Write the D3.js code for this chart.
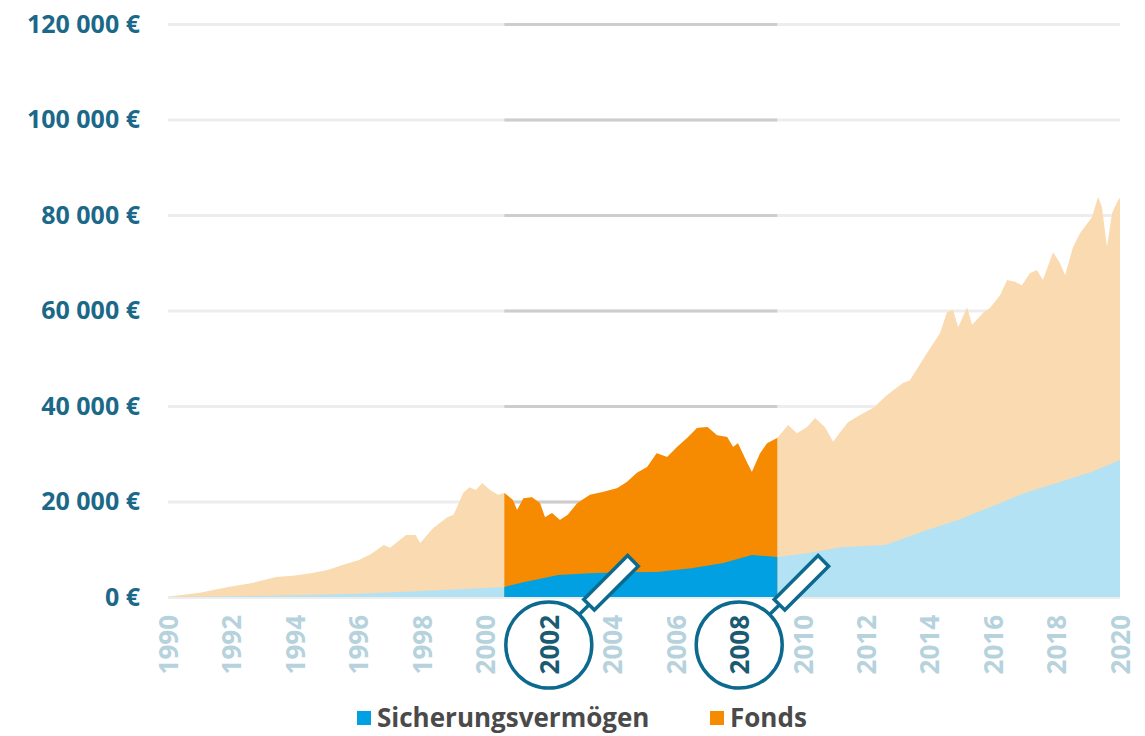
<!DOCTYPE html>
<html>
<head>
<meta charset="utf-8">
<script src="https://cdn.jsdelivr.net/npm/d3@7"></script>
<style>
  body { margin: 0; background: #fff; }
  text { font-family: "Open Sans", "DejaVu Sans", sans-serif; font-weight: 700; }
</style>
</head>
<body>
<script>
// portfolio value over time
var totalYears = [1990.0, 1990.3, 1991.0, 1991.9, 1992.7, 1993.4, 1994.0, 1994.5, 1995.0, 1995.5,
  1996.0, 1996.4, 1996.8, 1997.0, 1997.5, 1997.8, 1997.95, 1998.35, 1998.8, 1999.0,
  1999.3, 1999.5, 1999.7, 1999.9, 2000.15, 2000.4, 2000.6, 2000.87, 2001.0, 2001.2,
  2001.47, 2001.72, 2001.88, 2002.1, 2002.35, 2002.6, 2002.9, 2003.3, 2003.7, 2004.15,
  2004.46, 2004.78, 2005.1, 2005.4, 2005.73, 2006.04, 2006.36, 2006.67, 2007.0, 2007.3,
  2007.62, 2007.81, 2007.96, 2008.25, 2008.4, 2008.66, 2008.88, 2009.2, 2009.54, 2009.82,
  2010.14, 2010.39, 2010.7, 2010.96, 2011.18, 2011.43, 2011.81, 2012.22, 2012.66, 2013.16,
  2013.38, 2013.92, 2014.33, 2014.55, 2014.74, 2014.9, 2015.18, 2015.34, 2015.68, 2015.9,
  2016.22, 2016.44, 2016.69, 2016.91, 2017.16, 2017.38, 2017.57, 2017.89, 2018.11, 2018.27,
  2018.52, 2018.74, 2019.12, 2019.31, 2019.43, 2019.59, 2019.75, 2019.94, 2020.0];
var totalValues = [0, 300, 900, 2100, 3000, 4200, 4500, 5000, 5600, 6700,
  7700, 9000, 10900, 10300, 13000, 13000, 11300, 14400, 16700, 17200,
  21800, 23000, 22400, 23900, 22400, 21400, 21800, 20300, 18200, 20700,
  20900, 19700, 16700, 17600, 16100, 17200, 19700, 21400, 22000, 22800,
  24100, 26000, 27200, 30100, 29300, 31400, 33300, 35400, 35600, 33900,
  33500, 31400, 32200, 28100, 26200, 30100, 32200, 33300, 36000, 34300,
  35600, 37500, 35600, 32500, 34500, 36600, 38100, 39600, 42300, 44800,
  45400, 51100, 55300, 59700, 60100, 56500, 60700, 57000, 59500, 60500,
  63200, 66400, 66000, 65300, 67800, 68500, 66400, 72200, 69900, 67400,
  73300, 76200, 79600, 83800, 81700, 73300, 80400, 83100, 83600];

// Sicherungsvermögen part
var sicherYears = [1990, 1992, 1994, 1996, 1998, 2000, 2000.6, 2001.2, 2002.3, 2003.3,
  2004.3, 2005.4, 2006.5, 2007.5, 2008.4, 2009.2, 2010.2, 2011.2, 2012.6, 2013.9,
  2014.9, 2017.0, 2019.1, 2020.0];
var sicherValues = [0, 150, 350, 700, 1250, 1900, 2100, 3100, 4600, 5000,
  5200, 5250, 6000, 7100, 8800, 8400, 9200, 10400, 10900, 14000,
  16100, 21800, 26200, 28700];

var yTicks = [0, 20000, 40000, 60000, 80000, 100000, 120000];
var xTicks = [1990, 1992, 1994, 1996, 1998, 2000, 2002, 2004, 2006, 2008, 2010, 2012, 2014, 2016, 2018, 2020];
var markedYears = [2002, 2008];
var bandStart = 2000.6, bandEnd = 2009.2;
var legendNames = ["Sicherungsvermögen", "Fonds"];

var svgWidth = 1145, svgHeight = 736;
var margin = { top: 24, right: 25, bottom: 139, left: 168 };
var chartWidth = svgWidth - margin.left - margin.right;
var chartHeight = svgHeight - margin.top - margin.bottom;

var svg = d3.select("body").append("svg")
  .attr("width", svgWidth)
  .attr("height", svgHeight);

var chartGroup = svg.append("g")
  .attr("transform", `translate(${margin.left}, ${margin.top})`);

var x = d3.scaleLinear().domain([1990, 2020]).range([0, chartWidth]);
var y = d3.scaleLinear().domain([0, 120000]).range([chartHeight, 0]);

var total = totalYears.map((t, i) => ({ t: t, v: totalValues[i] }));
var sicher = sicherYears.map((t, i) => ({ t: t, v: sicherValues[i] }));

// clip for highlighted period
svg.append("defs").append("clipPath").attr("id", "band")
  .append("rect")
  .attr("x", x(bandStart)).attr("y", -10)
  .attr("width", x(bandEnd) - x(bandStart))
  .attr("height", chartHeight + 10);

// number format with space as thousands separator
var fmt = d3.formatLocale({ decimal: ",", thousands: " ", grouping: [3], currency: ["", " €"] }).format(",");

// gridlines + y labels
var leftAxis = d3.axisLeft(y).tickValues(yTicks)
  .tickSize(-chartWidth).tickPadding(28)
  .tickFormat(d => fmt(d) + " €");

var yAxisG = chartGroup.append("g").call(leftAxis);
yAxisG.select(".domain").remove();
yAxisG.selectAll("line").attr("stroke", "#ededed").attr("stroke-width", 3);
yAxisG.selectAll("text")
  .attr("fill", "#1b6889")
  .style("font-size", "25px");

// darker gridlines inside the highlighted period
chartGroup.append("g")
  .attr("clip-path", "url(#band)")
  .call(d3.axisLeft(y).tickValues(yTicks).tickSize(-chartWidth).tickFormat(""))
  .call(g => g.select(".domain").remove())
  .selectAll("line").attr("stroke", "#cdcdcd").attr("stroke-width", 3);

var areaOf = d3.area().x(d => x(d.t)).y0(y(0)).y1(d => y(d.v));

// faded areas
chartGroup.append("path").datum(total).attr("d", areaOf).attr("fill", "#fadab0");
chartGroup.append("path").datum(sicher).attr("d", areaOf).attr("fill", "#b3e2f5");

// strong areas in the highlighted period
var bandG = chartGroup.append("g").attr("clip-path", "url(#band)");
bandG.append("path").datum(total).attr("d", areaOf).attr("fill", "#f68a00");
bandG.append("path").datum(sicher).attr("d", areaOf).attr("fill", "#00a0e2");

// x axis, rotated labels
var bottomAxis = d3.axisBottom(x).tickValues(xTicks).tickSize(0).tickFormat(d3.format("d"));
var xAxisG = chartGroup.append("g")
  .attr("transform", "translate(0, " + chartHeight + ")")
  .call(bottomAxis);
xAxisG.select(".domain").remove();
xAxisG.selectAll("text")
  .style("font-size", "26px")
  .attr("fill", d => markedYears.includes(d) ? "#1a5a72" : "#b6d2dd")
  .attr("text-anchor", "end")
  .attr("transform", "rotate(-90)")
  .attr("x", -18)
  .attr("y", 0)
  .attr("dy", "0.36em");

// magnifier icons around the marked years
var lens = chartGroup.selectAll(".lens").data(markedYears).enter()
  .append("g")
  .attr("class", "lens")
  .attr("transform", d => `translate(${x(d)}, ${chartHeight + 48}) rotate(-45)`);
lens.append("circle").attr("r", 43)
  .attr("fill", "none").attr("stroke", "#0d6a8f").attr("stroke-width", 3.5);
lens.append("line").attr("x1", 43).attr("x2", 57)
  .attr("stroke", "#0d6a8f").attr("stroke-width", 3.5);
lens.append("rect").attr("x", 57).attr("y", -7.5).attr("width", 62).attr("height", 15)
  .attr("fill", "#fff").attr("stroke", "#0d6a8f").attr("stroke-width", 3.5);

// legend
var legendColors = ["#00a0e2", "#f68a00"];
var legendX = [357, 710];
var legend = svg.selectAll(".legend").data(legendNames).enter()
  .append("g")
  .attr("class", "legend")
  .attr("transform", (d, i) => `translate(${legendX[i]}, 711)`);
legend.append("rect").attr("width", 14).attr("height", 14).attr("fill", (d, i) => legendColors[i]);
legend.append("text")
  .attr("x", 20).attr("y", 7).attr("dy", "0.34em")
  .attr("fill", "#4a4a4a")
  .style("font-size", "26px")
  .text(d => d);
</script>
</body>
</html>
